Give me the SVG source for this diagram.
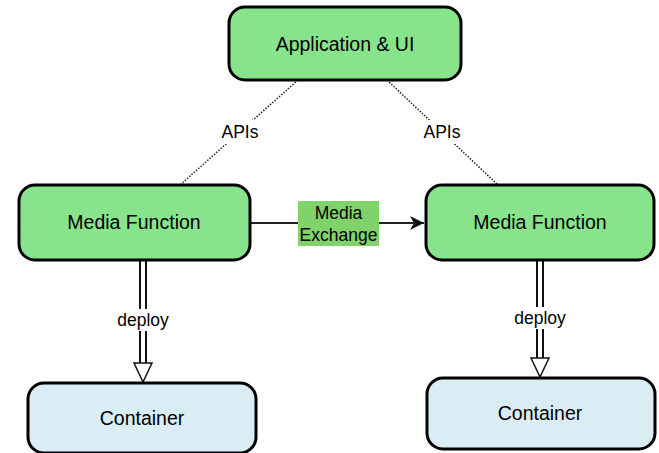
<svg xmlns="http://www.w3.org/2000/svg" width="659" height="453" viewBox="0 0 659 453">
  <style>
    .node { stroke: #000; stroke-width: 3; }
    .fn { fill: #88e38d; }
    .ct { fill: #dbedf4; }
    text { font-family: "Liberation Sans", Arial, sans-serif; fill: #000; text-anchor: middle; dominant-baseline: central; }
    .big { font-size: 19.5px; }
    .small { font-size: 17.5px; }
    .dot { stroke: #222; stroke-width: 1.5; stroke-dasharray: 1.5 1.5; fill: none; }
  </style>
  <defs>
    <marker id="arrow" markerWidth="16" markerHeight="14" refX="14" refY="7" orient="auto" markerUnits="userSpaceOnUse">
      <path d="M0,0 L14,7 L0,14 L4,7 Z" fill="#111"/>
    </marker>
  </defs>
  <rect width="659" height="453" fill="#fff"/>

  <g id="connectors">
    <!-- APIs links -->
    <line class="dot" x1="298" y1="80" x2="180" y2="185"/>
    <line class="dot" x1="387" y1="80" x2="498" y2="185"/>
    <rect x="216" y="120" width="48" height="24" fill="#fff"/>
    <text class="small" x="240" y="132">APIs</text>
    <rect x="418" y="120" width="48" height="24" fill="#fff"/>
    <text class="small" x="442" y="132">APIs</text>

    <!-- media exchange -->
    <line x1="250" y1="223" x2="424" y2="223" stroke="#222" stroke-width="2" marker-end="url(#arrow)"/>
    <rect x="298" y="201" width="81" height="45" fill="#80d36b"/>
    <text class="small" x="338.5" y="213">Media</text>
    <text class="small" x="338.5" y="235">Exchange</text>

    <!-- deploy links (double line, hollow head) -->
    <line x1="143" y1="261" x2="143" y2="364" stroke="#111" stroke-width="8"/>
    <line x1="143" y1="260" x2="143" y2="366" stroke="#fff" stroke-width="4"/>
    <path d="M134,363 L152,363 L143,382 Z" fill="#fff" stroke="#111" stroke-width="1.5" stroke-linejoin="miter"/>
    <rect x="110" y="309" width="66" height="22" fill="#fff"/>
    <text class="small" x="143" y="320">deploy</text>

    <line x1="540" y1="261" x2="540" y2="359" stroke="#111" stroke-width="8"/>
    <line x1="540" y1="260" x2="540" y2="361" stroke="#fff" stroke-width="4"/>
    <path d="M531,358 L549,358 L540,377 Z" fill="#fff" stroke="#111" stroke-width="1.5" stroke-linejoin="miter"/>
    <rect x="507" y="307" width="66" height="22" fill="#fff"/>
    <text class="small" x="540" y="318">deploy</text>
  </g>

  <g id="app-ui">
    <rect class="node fn" x="229" y="7" width="232" height="73" rx="16"/>
    <text class="big" x="345" y="44">Application &amp; UI</text>
  </g>
  <g id="media-function-left">
    <rect class="node fn" x="19" y="185" width="231" height="75" rx="16"/>
    <text class="big" x="134" y="222">Media Function</text>
  </g>
  <g id="media-function-right">
    <rect class="node fn" x="426" y="185" width="228" height="75" rx="16"/>
    <text class="big" x="540" y="222">Media Function</text>
  </g>
  <g id="container-left">
    <rect class="node ct" x="28" y="383" width="228" height="70" rx="16"/>
    <text class="big" x="142" y="418">Container</text>
  </g>
  <g id="container-right">
    <rect class="node ct" x="427" y="378" width="228" height="71" rx="16"/>
    <text class="big" x="540" y="413">Container</text>
  </g>
</svg>
